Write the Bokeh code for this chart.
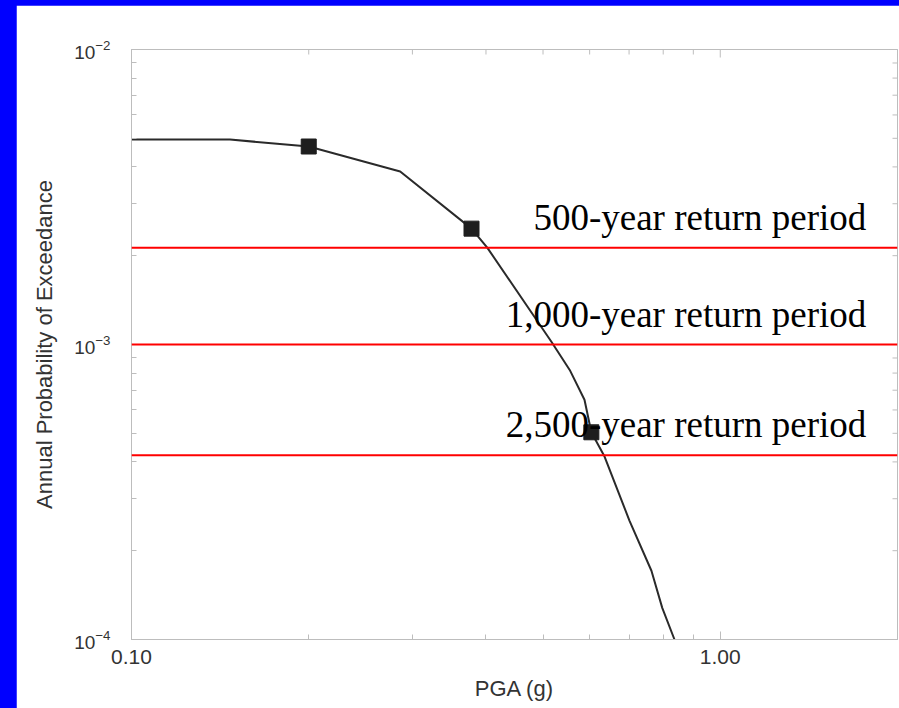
import math
from bokeh.plotting import figure
from bokeh.models import (FixedTicker, NumeralTickFormatter, Span, LabelSet,
                          ColumnDataSource, GlobalInlineStyleSheet, Range1d)
from bokeh.core.properties import value
from bokeh.embed import file_html
from bokeh.resources import INLINE

# ---- data ----
pga_curve = [0.1, 0.147, 0.2, 0.286, 0.378, 0.402, 0.517, 0.555, 0.588, 0.604,
             0.636, 0.701, 0.764, 0.797, 0.836]
prob_curve = [4.95e-3, 4.95e-3, 4.69e-3, 3.86e-3, 2.47e-3, 2.13e-3, 1.02e-3,
              8.2e-4, 6.5e-4, 5.04e-4, 4.17e-4, 2.53e-4, 1.71e-4, 1.28e-4, 1.0e-4]
pga_marks = [0.2, 0.378, 0.604]
prob_marks = [4.69e-3, 2.47e-3, 5.04e-4]
return_probs = [2.13e-3, 1.0e-3, 4.21e-4]
return_labels = ["500-year return period", "1,000-year return period",
                 "2,500-year return period"]
x_major = [0.1, 1.0]
x_minor = [0.2, 0.3, 0.4, 0.5, 0.6, 0.7, 0.8, 0.9, 2.0]
y_major = [1e-4, 1e-3, 1e-2]
y_minor = [2e-4, 3e-4, 4e-4, 5e-4, 6e-4, 7e-4, 8e-4, 9e-4,
           2e-3, 3e-3, 4e-3, 5e-3, 6e-3, 7e-3, 8e-3, 9e-3]
x_lo, x_hi = 0.1, 2.0
y_lo, y_hi = 1e-4, 1e-2
label_x = 1.77

GRAY = "#bdbdbd"
TXT = "#333333"
SANS = "Liberation Sans"

p = figure(width=883, height=703, x_axis_type="log", y_axis_type="log",
           x_range=Range1d(x_lo, x_hi), y_range=Range1d(y_lo, y_hi),
           output_backend="svg", toolbar_location=None,
           min_border_left=115, min_border_right=2, min_border_top=44,
           min_border_bottom=69)
p.background_fill_color = "white"
p.border_fill_color = "white"
p.outline_line_color = GRAY
p.grid.visible = False

for ax in p.axis:
    ax.axis_line_color = GRAY
    ax.major_tick_line_color = GRAY
    ax.minor_tick_line_color = GRAY
    ax.major_tick_out = 0
    ax.minor_tick_out = 0
    ax.major_tick_in = 8
    ax.minor_tick_in = 5
    ax.major_label_text_font = SANS
    ax.major_label_text_color = TXT
    ax.axis_label_text_font = SANS
    ax.axis_label_text_font_size = "22px"
    ax.axis_label_text_font_style = "normal"
    ax.axis_label_text_color = TXT

p.xaxis.ticker = FixedTicker(ticks=x_major, minor_ticks=x_minor)
p.xaxis.formatter = NumeralTickFormatter(format="0.00")
p.xaxis.major_label_text_font_size = "21px"
p.yaxis.ticker = FixedTicker(ticks=y_major, minor_ticks=y_minor)
p.yaxis.major_label_text_font_size = "19px"

p.xaxis.axis_label = "PGA (g)"
p.xaxis.major_label_standoff = 10
p.xaxis.axis_label_standoff = 9
p.yaxis.axis_label = "Annual Probability of Exceedance"
p.yaxis.major_label_standoff = 21
p.yaxis.axis_label_standoff = 14

# inward ticks on top and right edges of the frame
tick_kw = dict(line_color=GRAY, line_width=1, length_units="screen")
p.ray(x=x_major, y=[y_hi] * len(x_major), length=8, angle=-math.pi / 2, **tick_kw)
p.ray(x=x_minor, y=[y_hi] * len(x_minor), length=5, angle=-math.pi / 2, **tick_kw)
p.ray(x=[x_hi] * len(y_major), y=y_major, length=8, angle=math.pi, **tick_kw)
p.ray(x=[x_hi] * len(y_minor), y=y_minor, length=5, angle=math.pi, **tick_kw)

for v in return_probs:
    p.add_layout(Span(location=v, dimension="width", line_color="#ff0000",
                      line_width=2))

p.line(pga_curve, prob_curve, line_color="#2a2a2a", line_width=2)
p.scatter(pga_marks, prob_marks, marker="square", size=15,
          fill_color="#1e1e1e", line_color="#1e1e1e")

src = ColumnDataSource(dict(x=[label_x] * len(return_probs), y=return_probs,
                            t=return_labels))
p.add_layout(LabelSet(x="x", y="y", text="t", source=src,
                      text_font=value("Liberation Serif"), text_font_size="37px",
                      text_align="right", text_baseline="alphabetic",
                      text_color="black", y_offset=18))

p.stylesheets = [GlobalInlineStyleSheet(
    css="html, body { margin: 0 !important; padding: 0; background: #0000ff; overflow: hidden; } "
        "body { padding: 5px 0 0 16px !important; }")]

open("out.html", "w").write(file_html(p, INLINE))
